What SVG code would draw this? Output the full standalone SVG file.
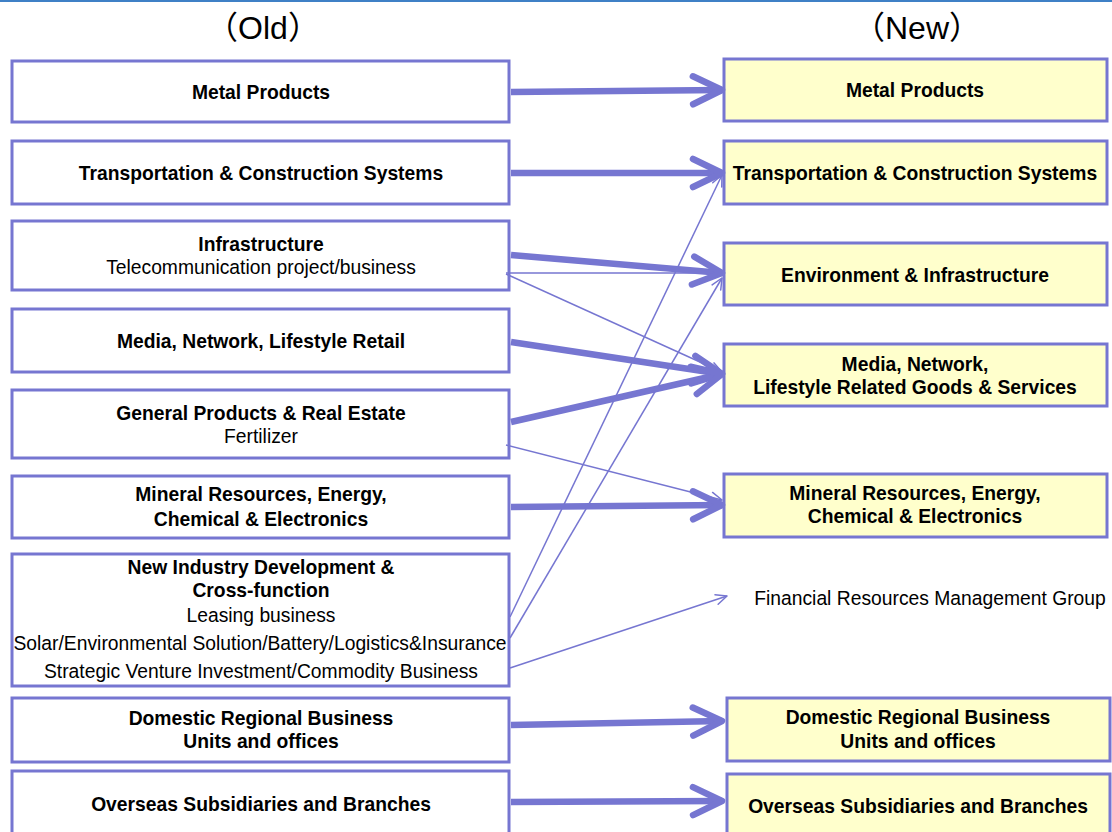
<svg xmlns="http://www.w3.org/2000/svg" width="1112" height="832" viewBox="0 0 1112 832">
<style>
.box{fill:#ffffff;stroke:#7676d1;stroke-width:3}
.nbox{fill:#ffffcc;stroke:#7676d1;stroke-width:3}
.b{font-family:"Liberation Sans",Arial,sans-serif;font-size:19.3px;font-weight:bold;fill:#000;text-anchor:middle}
.r{font-family:"Liberation Sans",Arial,sans-serif;font-size:19.3px;fill:#000;text-anchor:middle}
.h{font-family:"Liberation Sans","Noto Sans CJK JP",sans-serif;font-size:32px;fill:#000;text-anchor:middle}
.thick{fill:none;stroke:#7676d1;stroke-width:6.5;marker-end:url(#big)}
.thin{fill:none;stroke:#7676d1;stroke-width:1.5;marker-end:url(#small)}
</style>
<defs>
<marker id="big" markerUnits="userSpaceOnUse" viewBox="-36 -20 42 40" markerWidth="42" markerHeight="40" refX="0" refY="0" orient="auto" overflow="visible">
<path d="M-29,-14 L0,0 L-29,14" fill="none" stroke="#7676d1" stroke-width="6.5" stroke-linecap="round" stroke-linejoin="round"/>
</marker>
<marker id="small" markerUnits="userSpaceOnUse" viewBox="-14 -8 16 16" markerWidth="16" markerHeight="16" refX="0" refY="0" orient="auto" overflow="visible">
<path d="M-11,-5 L0,0 L-11,5" fill="none" stroke="#7676d1" stroke-width="1.5" stroke-linecap="round" stroke-linejoin="round"/>
</marker>
</defs>
<rect x="0" y="0" width="1112" height="2" fill="#3f80c6"/>
<g id="header">
<text class="h" x="263" y="39">（Old）</text>
<text class="h" x="917" y="39">（New）</text>
</g>
<g id="old-metal"><rect class="box" x="12" y="61" width="497" height="61"/><text class="b" x="261" y="99">Metal Products</text></g>
<g id="old-transport"><rect class="box" x="12" y="141" width="497" height="63"/><text class="b" x="261" y="180">Transportation &amp; Construction Systems</text></g>
<g id="old-infra"><rect class="box" x="12" y="221" width="497" height="69"/><text class="b" x="261" y="251">Infrastructure</text><text class="r" x="261" y="274">Telecommunication project/business</text></g>
<g id="old-media"><rect class="box" x="12" y="309" width="497" height="63"/><text class="b" x="261" y="348">Media, Network, Lifestyle Retail</text></g>
<g id="old-general"><rect class="box" x="12" y="390" width="497" height="68"/><text class="b" x="261" y="420">General Products &amp; Real Estate</text><text class="r" x="261" y="443">Fertilizer</text></g>
<g id="old-mineral"><rect class="box" x="12" y="476" width="497" height="62"/><text class="b" x="261" y="501">Mineral Resources, Energy,</text><text class="b" x="261" y="526">Chemical &amp; Electronics</text></g>
<g id="old-newind"><rect class="box" x="12" y="554" width="497" height="132"/><text class="b" x="261" y="574">New Industry Development &amp;</text><text class="b" x="261" y="597">Cross-function</text><text class="r" x="261" y="622">Leasing business</text><text class="r" x="260" y="650">Solar/Environmental Solution/Battery/Logistics&amp;Insurance</text><text class="r" x="261" y="678">Strategic Venture Investment/Commodity Business</text></g>
<g id="old-domestic"><rect class="box" x="12" y="698" width="497" height="64"/><text class="b" x="261" y="725">Domestic Regional Business</text><text class="b" x="261" y="748">Units and offices</text></g>
<g id="old-overseas"><rect class="box" x="12" y="771" width="497" height="80"/><text class="b" x="261" y="811">Overseas Subsidiaries and Branches</text></g>
<g id="new-metal"><rect class="nbox" x="724" y="59" width="383" height="62"/><text class="b" x="915" y="97">Metal Products</text></g>
<g id="new-transport"><rect class="nbox" x="724" y="141" width="383" height="63"/><text class="b" x="915" y="180">Transportation &amp; Construction Systems</text></g>
<g id="new-env"><rect class="nbox" x="724" y="243" width="383" height="62"/><text class="b" x="915" y="282">Environment &amp; Infrastructure</text></g>
<g id="new-media"><rect class="nbox" x="724" y="344" width="383" height="62"/><text class="b" x="915" y="371">Media, Network,</text><text class="b" x="915" y="394">Lifestyle Related Goods &amp; Services</text></g>
<g id="new-mineral"><rect class="nbox" x="724" y="474" width="383" height="63"/><text class="b" x="915" y="500">Mineral Resources, Energy,</text><text class="b" x="915" y="523">Chemical &amp; Electronics</text></g>
<g id="new-financial"><text class="r" x="930" y="605">Financial Resources Management Group</text></g>
<g id="new-domestic"><rect class="nbox" x="727" y="698" width="383" height="63"/><text class="b" x="918" y="724">Domestic Regional Business</text><text class="b" x="918" y="748">Units and offices</text></g>
<g id="new-overseas"><rect class="nbox" x="727" y="774" width="383" height="80"/><text class="b" x="918" y="813">Overseas Subsidiaries and Branches</text></g>
<g id="connectors">
<path class="thin" d="M506,273 L722,273"/>
<path class="thin" d="M506,274 L722,372"/>
<path class="thin" d="M506,445 L722,500"/>
<path class="thin" d="M510,617 L722,175"/>
<path class="thin" d="M510,638 L722,278"/>
<path class="thin" d="M510,668 L727,596"/>
<path class="thick" d="M511,92 L722,90"/>
<path class="thick" d="M511,173 L722,173"/>
<path class="thick" d="M511,255 L722,273"/>
<path class="thick" d="M511,342 L722,374"/>
<path class="thick" d="M511,422 L722,374"/>
<path class="thick" d="M511,507 L722,505"/>
<path class="thick" d="M511,725 L722,721"/>
<path class="thick" d="M511,802 L722,801"/>
</g>
</svg>
